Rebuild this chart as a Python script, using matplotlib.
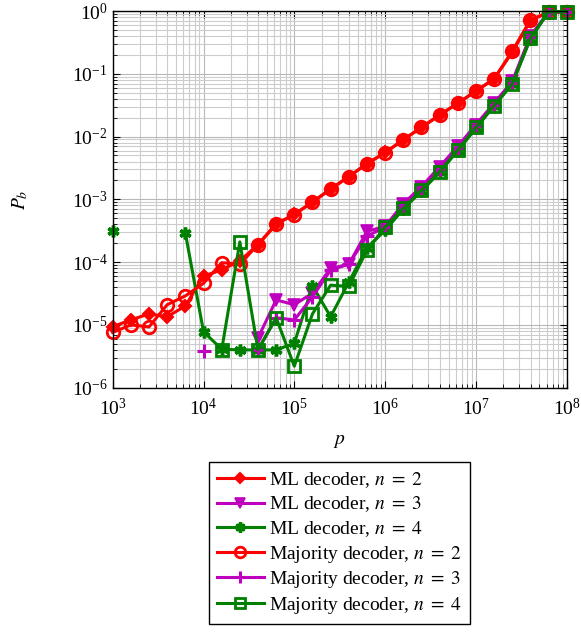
import matplotlib
matplotlib.use('Agg')
import matplotlib.pyplot as plt
import numpy as np

plt.rcParams['font.family'] = ['Liberation Serif', 'DejaVu Serif']
plt.rcParams['mathtext.fontset'] = 'stix'

nan = np.nan

# flip probability p (x axis)
p = [1e3, 1.585e3, 2.512e3, 3.981e3, 6.31e3,
     1e4, 1.585e4, 2.512e4, 3.981e4, 6.31e4,
     1e5, 1.585e5, 2.512e5, 3.981e5, 6.31e5,
     1e6, 1.585e6, 2.512e6, 3.981e6, 6.31e6,
     1e7, 1.585e7, 2.512e7, 3.981e7, 6.31e7, 1e8]

# bit error probability P_b for each decoder
ml_n2 = [9.4e-6, 1.2e-5, 1.5e-5, 1.35e-5, 2.0e-5, 6.0e-5, 7.5e-5, 1.05e-4, 1.9e-4, 4.0e-4,
         5.8e-4, 9.0e-4, 1.45e-3, 2.3e-3, 3.7e-3, 5.6e-3, 8.9e-3, 1.4e-2, 2.2e-2, 3.4e-2,
         5.3e-2, 8.3e-2, 0.22, 0.70, 0.97, 0.98]
ml_n3 = [nan, nan, nan, nan, nan, nan, nan, nan, 6.2e-6, 2.5e-5,
         2.1e-5, 3.2e-5, 8.0e-5, 9.2e-5, 3.1e-4, 3.7e-4, 8.5e-4, 1.6e-3, 3.3e-3, 7.0e-3,
         1.55e-2, 3.4e-2, 7.6e-2, 0.40, 0.97, 0.98]
ml_n4 = [3.1e-4, nan, nan, nan, 2.9e-4, 7.8e-6, 4.1e-6, 4.0e-6, 4.0e-6, 4.0e-6,
         5.1e-6, 4.2e-5, 1.35e-5, 4.8e-5, 1.7e-4, 3.2e-4, 7.0e-4, 1.35e-3, 2.7e-3, 6.0e-3,
         1.35e-2, 3.1e-2, 6.9e-2, 0.36, 0.97, 0.98]
maj_n2 = [7.6e-6, 1.0e-5, 9.3e-6, 2.1e-5, 2.9e-5, 4.6e-5, 9.8e-5, 9.3e-5, 1.9e-4, 4.1e-4,
          5.7e-4, 9.1e-4, 1.47e-3, 2.3e-3, 3.7e-3, 5.5e-3, 8.9e-3, 1.4e-2, 2.2e-2, 3.4e-2,
          5.3e-2, 8.3e-2, 0.23, 0.72, 0.96, 0.97]
maj_n3 = [nan, nan, nan, nan, nan, 3.9e-6, nan, nan, 4.0e-6, 1.3e-5,
          1.2e-5, 2.8e-5, 7.5e-5, 9.3e-5, 2.6e-4, 3.6e-4, 8.0e-4, 1.5e-3, 3.1e-3, 6.6e-3,
          1.45e-2, 3.2e-2, 7.2e-2, 0.38, 0.97, 0.98]
maj_n4 = [nan, nan, nan, nan, nan, nan, 4.0e-6, 2.1e-4, 4.0e-6, 1.3e-5,
          2.2e-6, 1.5e-5, 4.3e-5, 4.1e-5, 1.55e-4, 3.6e-4, 7.2e-4, 1.4e-3, 2.75e-3, 6.1e-3,
          1.4e-2, 3.1e-2, 6.9e-2, 0.37, 0.97, 0.98]

red = '#ff0000'
violet = '#bf00bf'
green = '#008000'

fig = plt.figure(figsize=(5.81, 6.34), dpi=100)
ax = fig.add_axes([0.194, 0.3885, 0.7814, 0.5941])

lw = 2.2
ax.plot(p, ml_n2, color=red, lw=lw, marker='D', ms=6, mfc=red, mew=1.5, label=r'ML decoder, $n\;=\;2$', clip_on=False)
ax.plot(p, ml_n3, color=violet, lw=lw, marker='v', ms=9, mfc=violet, mew=1.2, label=r'ML decoder, $n\;=\;3$', clip_on=False)
ax.plot(p, ml_n4, color=green, lw=lw, marker=(6, 2, 0), ms=8.5, mew=2.5, label=r'ML decoder, $n\;=\;4$', clip_on=False)
ax.plot(p, maj_n2, color=red, lw=lw, marker='o', ms=9, mfc='none', mew=2, label=r'Majority decoder, $n\;=\;2$', clip_on=False)
ax.plot(p, maj_n3, color=violet, lw=lw, marker='+', ms=9.5, mew=2.2, label=r'Majority decoder, $n\;=\;3$', clip_on=False)
ax.plot(p, maj_n4, color=green, lw=lw, marker='s', ms=9, mfc='none', mew=2, label=r'Majority decoder, $n\;=\;4$', clip_on=False)

ax.set_xscale('log')
ax.set_yscale('log')
ax.set_xlim(1e3, 1e8)
ax.set_ylim(1e-6, 1e0)

ax.grid(True, which='major', color='0.72', lw=0.8)
ax.grid(True, which='minor', color='0.8', lw=0.8)
ax.set_axisbelow(True)
ax.tick_params(which='both', direction='in', top=True, right=True, labelsize=14)
ax.tick_params(axis='x', which='major', pad=7)
ax.tick_params(which='major', length=5, width=0.8)
ax.tick_params(which='minor', length=3, width=0.6)
ax.xaxis.set_minor_locator(matplotlib.ticker.LogLocator(subs=np.arange(2, 10)))
ax.yaxis.set_minor_locator(matplotlib.ticker.LogLocator(subs=np.arange(2, 10)))
ax.xaxis.set_minor_formatter(matplotlib.ticker.NullFormatter())
ax.yaxis.set_minor_formatter(matplotlib.ticker.NullFormatter())
for s in ax.spines.values():
    s.set_linewidth(1.0)

ax.set_xlabel('$p$', fontsize=14, labelpad=10)
ax.set_ylabel('$P_b$', fontsize=14, labelpad=30)

leg = fig.legend(loc='upper center', bbox_to_anchor=(0.584, 0.2713), fontsize=14,
                 fancybox=False, edgecolor='black', framealpha=1, markerscale=0.85,
                 borderaxespad=0, handlelength=2.4, handletextpad=0.3,
                 labelspacing=0.24, borderpad=0.42)
leg.get_frame().set_linewidth(1.0)

fig.set_facecolor('white')
fig.savefig('out.png')
